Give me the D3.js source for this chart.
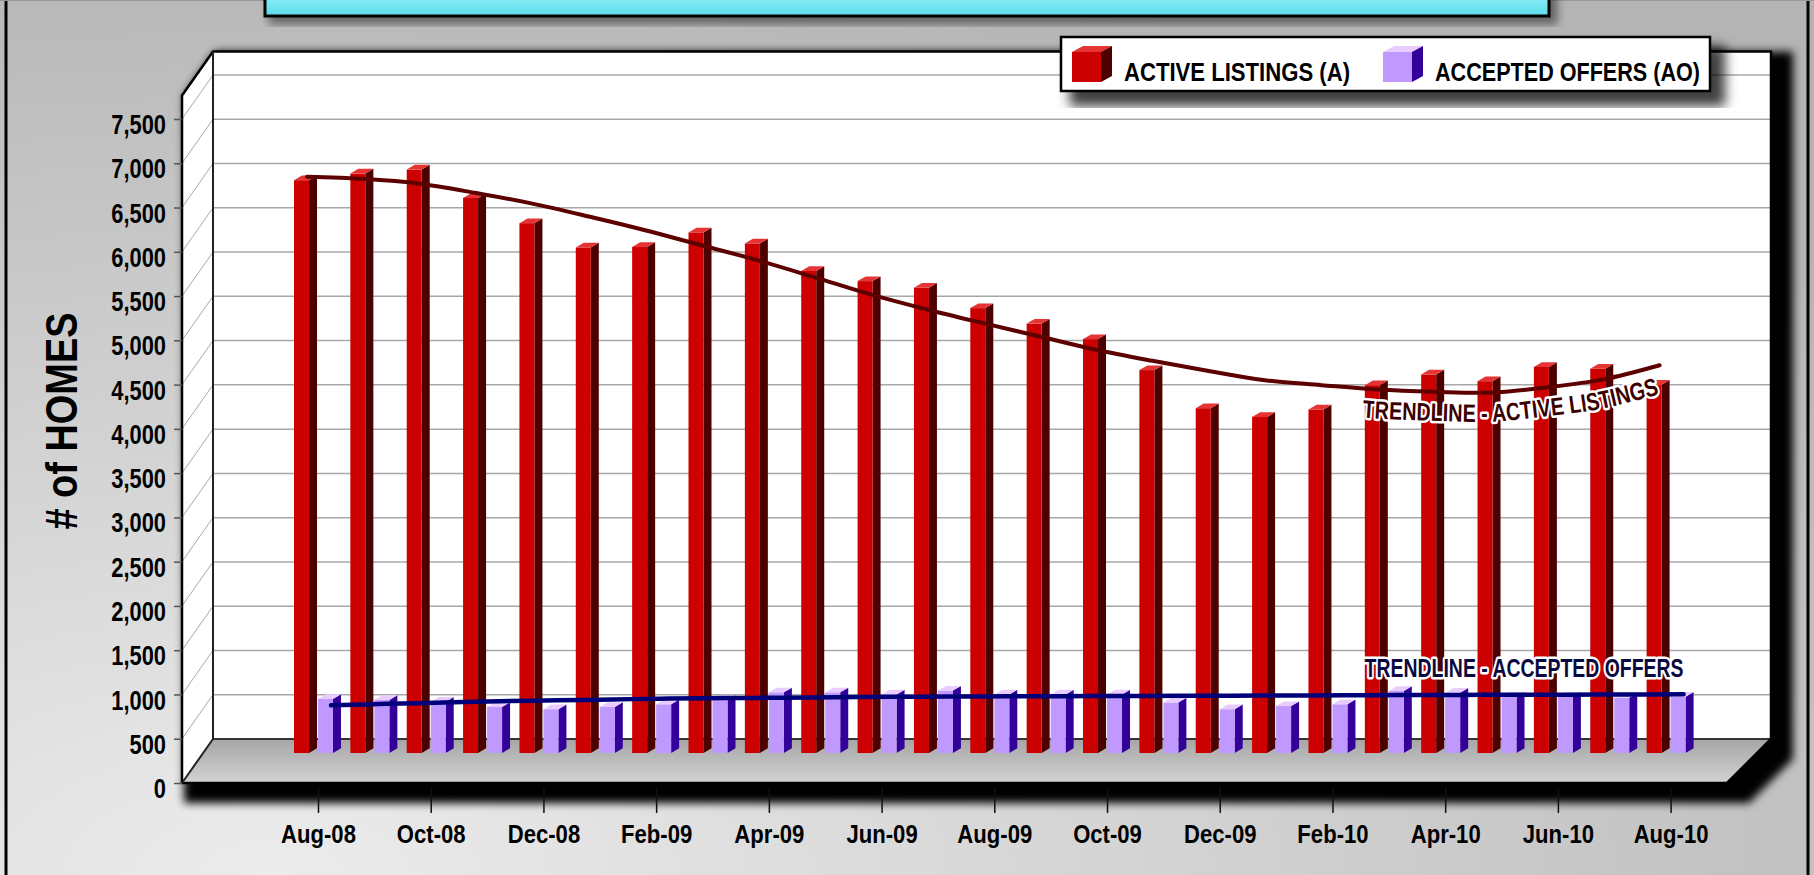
<!DOCTYPE html>
<html>
<head>
<meta charset="utf-8">
<script src="https://cdn.jsdelivr.net/npm/d3@7"></script>
<style>
  body { margin: 0; overflow: hidden; background: #d6d6d6; }
  text { font-family: "Liberation Sans", Arial, sans-serif; font-weight: bold; }
</style>
</head>
<body>
<script>
// 月ごとのデータ (Aug-08 〜 Aug-10)
const months = ["Aug-08","Sep-08","Oct-08","Nov-08","Dec-08","Jan-09","Feb-09","Mar-09","Apr-09","May-09",
  "Jun-09","Jul-09","Aug-09","Sep-09","Oct-09","Nov-09","Dec-09","Jan-10","Feb-10","Mar-10",
  "Apr-10","May-10","Jun-10","Jul-10","Aug-10"];

const activeListings = [6470, 6545, 6590, 6270, 5985, 5710, 5715, 5880, 5755, 5445,
  5330, 5255, 5025, 4850, 4675, 4325, 3895, 3795, 3880, 4155,
  4275, 4200, 4360, 4340, 4160];

const acceptedOffers = [610, 600, 580, 520, 495, 520, 550, 600, 685, 685,
  660, 705, 660, 660, 660, 570, 495, 530, 550, 700,
  680, 635, 635, 625, 635];

// トレンドライン
const activeTrend = [6510, 6485, 6430, 6325, 6205, 6060, 5905, 5735, 5565, 5375,
  5180, 5010, 4855, 4705, 4555, 4430, 4315, 4210, 4155, 4105,
  4080, 4070, 4130, 4220, 4380];

const offersTrend = [540, 555, 570, 585, 595, 605, 615, 620, 625, 630,
  635, 637, 640, 642, 644, 646, 648, 650, 652, 655,
  656, 658, 659, 660, 663];

const yTickValues = [0, 500, 1000, 1500, 2000, 2500, 3000, 3500, 4000, 4500, 5000, 5500, 6000, 6500, 7000, 7500];
const xTickLabels = ["Aug-08","Oct-08","Dec-08","Feb-09","Apr-09","Jun-09","Aug-09","Oct-09","Dec-09","Feb-10","Apr-10","Jun-10","Aug-10"];

const seriesNames = ["ACTIVE LISTINGS (A)", "ACCEPTED OFFERS (AO)"];
const colors = {
  red: {front: "#cc0000", side: "#4d0000", top: "#e63333"},
  blue: {front: "#bf99ff", side: "#330099", top: "#e8ccff"}
};

const width = 1814, height = 875;

const svg = d3.select("body").append("svg")
  .attr("width", width)
  .attr("height", height)
  .attr("viewBox", `0 0 ${width} ${height}`);

const defs = svg.append("defs");

// 細い書体の代わりに横方向に縮める
const condense = (sel, k) => sel.each(function () {
  const w = this.getComputedTextLength();
  d3.select(this).attr("textLength", w * k).attr("lengthAdjust", "spacingAndGlyphs");
});

// 背景グラデーション
const bg = defs.append("radialGradient").attr("id", "bgGrad")
  .attr("cx", "0.15").attr("cy", "1").attr("r", "1.1");
bg.append("stop").attr("offset", "0%").attr("stop-color", "#ececec");
bg.append("stop").attr("offset", "100%").attr("stop-color", "#b4b4b4");

const titleGrad = defs.append("linearGradient").attr("id", "titleGrad")
  .attr("x1", 0).attr("y1", 0).attr("x2", 0).attr("y2", 1);
titleGrad.append("stop").attr("offset", "0%").attr("stop-color", "#b4fbfe");
titleGrad.append("stop").attr("offset", "100%").attr("stop-color", "#5cdcec");

const floorGrad = defs.append("linearGradient").attr("id", "floorGrad")
  .attr("x1", 0).attr("y1", 0).attr("x2", 0).attr("y2", 1);
floorGrad.append("stop").attr("offset", "0%").attr("stop-color", "#a6a6a6");
floorGrad.append("stop").attr("offset", "100%").attr("stop-color", "#d2d2d2");

// 影のフィルタ
const makeShadow = (id, dilate, dx, dy, blur, opacity) => {
  const f = defs.append("filter").attr("id", id)
    .attr("x", "-10%").attr("y", "-10%").attr("width", "130%").attr("height", "140%");
  f.append("feMorphology").attr("in", "SourceAlpha").attr("operator", "dilate").attr("radius", dilate).attr("result", "d");
  f.append("feOffset").attr("in", "d").attr("dx", dx).attr("dy", dy).attr("result", "o");
  f.append("feGaussianBlur").attr("in", "o").attr("stdDeviation", blur).attr("result", "b");
  f.append("feFlood").attr("flood-color", "#000").attr("flood-opacity", opacity);
  f.append("feComposite").attr("in2", "b").attr("operator", "in").attr("result", "s");
  const m = f.append("feMerge");
  m.append("feMergeNode").attr("in", "s");
  m.append("feMergeNode").attr("in", "SourceGraphic");
};
makeShadow("chartShadow", 10, 12, 10, 4, 1);
makeShadow("boxShadow", 2, 12, 12, 6, 0.75);
makeShadow("titleShadow", 1, 6, 6, 4, 0.45);

svg.append("rect").attr("width", width).attr("height", height).attr("fill", "url(#bgGrad)");
// 外枠
svg.append("line").attr("x1", 6).attr("x2", 6).attr("y1", 0).attr("y2", height).attr("stroke", "#000").attr("stroke-width", 3);
svg.append("line").attr("x1", 1808).attr("x2", 1808).attr("y1", 0).attr("y2", height).attr("stroke", "#000").attr("stroke-width", 3);
svg.append("line").attr("x1", 0).attr("x2", width).attr("y1", 0.5).attr("y2", 0.5).attr("stroke", "#999").attr("stroke-width", 1);

// タイトルボックス (文字は切れて見えない)
svg.append("rect")
  .attr("x", 265).attr("y", -20).attr("width", 1284).attr("height", 36)
  .attr("fill", "url(#titleGrad)").attr("stroke", "#000").attr("stroke-width", 3)
  .attr("filter", "url(#titleShadow)");

// 3Dの枠の設定
const frontL = 182, frontR = 1727, backL = 213, backR = 1771;
const depthY = -44;       // 奥行き方向のy移動
const barDepthY = -30;    // 棒が置かれている奥行き
const wallTopValue = 7765;

const yScale = d3.scaleLinear().domain([0, 7500]).range([783, 119]);
const xScale = d3.scalePoint().domain(months).range([318, 1670.6]);

const yFront0 = yScale(0);
const yBack0 = yScale(0) + depthY;
const yFrontTop = yScale(wallTopValue);
const yBackTop = yScale(wallTopValue) + depthY;

// 影の付いた外形
svg.append("polygon")
  .attr("points", [[frontL, yFrontTop], [backL, yBackTop], [backR, yBackTop], [backR, yBack0], [frontR, yFront0], [frontL, yFront0]].join(" "))
  .attr("fill", "#fff")
  .attr("filter", "url(#chartShadow)");

// 奥の壁
svg.append("rect")
  .attr("x", backL).attr("y", yBackTop).attr("width", backR - backL).attr("height", yBack0 - yBackTop)
  .attr("fill", "#fff");

// 奥の壁のグリッド線
svg.append("g").selectAll("line")
  .data(yTickValues.filter(d => d > 0))
  .join("line")
  .attr("x1", backL).attr("x2", backR)
  .attr("y1", d => yScale(d) + depthY).attr("y2", d => yScale(d) + depthY)
  .attr("stroke", "#a8a8a8").attr("stroke-width", 1.5);

// 左の壁
svg.append("polygon")
  .attr("points", [[frontL, yFrontTop], [backL, yBackTop], [backL, yBack0], [frontL, yFront0]].join(" "))
  .attr("fill", "#fff");
svg.append("g").selectAll("line")
  .data(yTickValues.filter(d => d > 0))
  .join("line")
  .attr("x1", frontL).attr("x2", backL)
  .attr("y1", d => yScale(d)).attr("y2", d => yScale(d) + depthY)
  .attr("stroke", "#a8a8a8").attr("stroke-width", 1);

// 床
svg.append("polygon")
  .attr("points", [[frontL, yFront0], [frontR, yFront0], [backR, yBack0], [backL, yBack0]].join(" "))
  .attr("fill", "url(#floorGrad)");
svg.append("line")
  .attr("x1", backL).attr("x2", backR).attr("y1", yBack0).attr("y2", yBack0)
  .attr("stroke", "#333").attr("stroke-width", 2);

// 枠線
svg.append("path")
  .attr("d", `M${frontL},${yFront0} L${frontL},${yFrontTop} L${backL},${yBackTop} L${backR},${yBackTop} L${backR},${yBack0} L${frontR},${yFront0} Z`)
  .attr("fill", "none").attr("stroke", "#000").attr("stroke-width", 2.5).attr("stroke-linejoin", "round");
svg.append("line")
  .attr("x1", backL).attr("x2", backL).attr("y1", yBackTop).attr("y2", yBack0)
  .attr("stroke", "#222").attr("stroke-width", 2);
svg.append("line")
  .attr("x1", frontL).attr("x2", backL).attr("y1", yFront0).attr("y2", yBack0)
  .attr("stroke", "#222").attr("stroke-width", 2);

// 3Dの棒を描く関数
const barW = 15, sideW = 8, sideDy = -4.7;
const drawBars = (values, offset, c, cls) => {
  const g = svg.append("g").attr("class", cls);
  const base = yScale(0) + barDepthY;
  values.forEach((v, i) => {
    const x0 = xScale(months[i]) + offset;
    const y0 = yScale(v) + barDepthY;
    g.append("polygon")
      .attr("points", [[x0 + barW, y0], [x0 + barW + sideW, y0 + sideDy], [x0 + barW + sideW, base + sideDy], [x0 + barW, base]].join(" "))
      .attr("fill", c.side);
    g.append("rect")
      .attr("x", x0).attr("y", y0).attr("width", barW).attr("height", base - y0)
      .attr("fill", c.front);
    g.append("polygon")
      .attr("points", [[x0, y0], [x0 + sideW, y0 + sideDy], [x0 + barW + sideW, y0 + sideDy], [x0 + barW, y0]].join(" "))
      .attr("fill", c.top);
  });
};

drawBars(activeListings, -24, colors.red, "active");
drawBars(acceptedOffers, 0, colors.blue, "offers");

// 軸
const yAxis = svg.append("g")
  .attr("transform", `translate(${frontL},0)`)
  .call(d3.axisLeft(yScale).tickValues(yTickValues).tickSize(8).tickPadding(8).tickFormat(d3.format(",")));
yAxis.select(".domain").remove();
yAxis.selectAll(".tick line").attr("stroke", "#555").attr("stroke-width", 1.5);
yAxis.selectAll("text")
  .attr("font-family", null)
  .attr("font-size", 27).attr("fill", "#000").attr("dy", "0.54em")
  .call(condense, 0.81);

const xAxis = svg.append("g")
  .attr("transform", `translate(0,${yFront0 + 5})`)
  .call(d3.axisBottom(xScale).tickValues(xTickLabels).tickSize(25).tickPadding(6));
xAxis.select(".domain").remove();
xAxis.selectAll(".tick line").attr("stroke", "#111").attr("stroke-width", 1.5);
xAxis.selectAll("text")
  .attr("font-family", null)
  .attr("font-size", 26).attr("fill", "#000").attr("y", 55).attr("dy", 0)
  .call(condense, 0.85);

// Y軸タイトル
svg.append("text")
  .attr("transform", "translate(77,421) rotate(-90)")
  .attr("text-anchor", "middle")
  .attr("font-size", 45)
  .attr("fill", "#000")
  .attr("textLength", 217).attr("lengthAdjust", "spacingAndGlyphs")
  .text("# of HOMES");

// トレンドライン
const trendLine = (offsetX, shiftY) => d3.line()
  .x(d => xScale(d.m) + offsetX)
  .y(d => yScale(d.v) + barDepthY + shiftY)
  .curve(d3.curveCatmullRom);

const activeTrendPts = activeTrend.map((v, i) => ({m: months[i], v}));
const offersTrendPts = offersTrend.map((v, i) => ({m: months[i], v}));

svg.append("path")
  .attr("d", trendLine(-11, 0)(activeTrendPts))
  .attr("fill", "none").attr("stroke", "#5c0000").attr("stroke-width", 4).attr("stroke-linecap", "round");

svg.append("path")
  .attr("d", trendLine(13, 0)(offersTrendPts))
  .attr("fill", "none").attr("stroke", "#000078").attr("stroke-width", 4.5).attr("stroke-linecap", "round");

// トレンドラインのラベル
defs.append("path")
  .attr("id", "activeLabelPath")
  .attr("d", trendLine(-11, 29)(activeTrendPts.slice(16)));

svg.append("text")
  .attr("font-size", 25)
  .attr("fill", "#3a0000")
  .attr("stroke", "#fff").attr("stroke-width", 5).attr("stroke-linejoin", "round")
  .attr("paint-order", "stroke")
  .append("textPath")
  .attr("href", "#activeLabelPath")
  .attr("startOffset", "100%")
  .attr("text-anchor", "end")
  .attr("textLength", 300).attr("lengthAdjust", "spacingAndGlyphs")
  .text("TRENDLINE - ACTIVE LISTINGS");

const lastOffer = offersTrendPts[offersTrendPts.length - 1];
svg.append("text")
  .attr("x", xScale(lastOffer.m) + 13)
  .attr("y", yScale(lastOffer.v) + barDepthY - 17)
  .attr("text-anchor", "end")
  .attr("font-size", 25)
  .attr("fill", "#0a0a40")
  .attr("stroke", "#fff").attr("stroke-width", 5).attr("stroke-linejoin", "round")
  .attr("paint-order", "stroke")
  .attr("textLength", 319).attr("lengthAdjust", "spacingAndGlyphs")
  .text("TRENDLINE - ACCEPTED OFFERS");

// 凡例
const legend = svg.append("g").attr("transform", "translate(1061,37)");
legend.append("rect")
  .attr("width", 649).attr("height", 54)
  .attr("fill", "#fff").attr("stroke", "#000").attr("stroke-width", 2.5)
  .attr("filter", "url(#boxShadow)");

const legendItems = [
  {name: seriesNames[0], c: colors.red, x: 11, tx: 63, len: 226},
  {name: seriesNames[1], c: colors.blue, x: 322, tx: 374, len: 265}
];
legendItems.forEach(it => {
  const g = legend.append("g").attr("transform", `translate(${it.x},9)`);
  g.append("polygon").attr("points", "0,6 11,0 40,0 29,6").attr("fill", it.c.top);
  g.append("polygon").attr("points", "29,6 40,0 40,30 29,36").attr("fill", it.c.side);
  g.append("rect").attr("x", 0).attr("y", 6).attr("width", 29).attr("height", 30).attr("fill", it.c.front);
  legend.append("text")
    .attr("x", it.tx).attr("y", 44)
    .attr("font-size", 26).attr("fill", "#000")
    .attr("textLength", it.len).attr("lengthAdjust", "spacingAndGlyphs")
    .text(it.name);
});
</script>
</body>
</html>
